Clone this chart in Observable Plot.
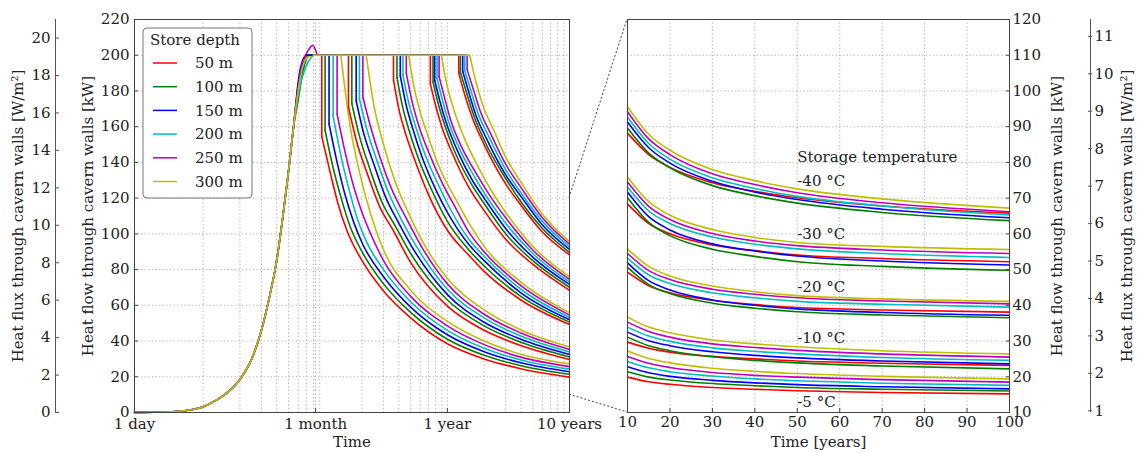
<!DOCTYPE html>
<html><head><meta charset="utf-8">
<script src="https://cdn.jsdelivr.net/npm/d3@7"></script>
<script src="https://cdn.jsdelivr.net/npm/@observablehq/plot@0.6"></script>
<style>
body{margin:0;background:#fff;}
#chart{position:relative;width:1138px;height:453px;font-family:"DejaVu Serif",serif;background:#fff;}
#chart svg{position:absolute;top:0;overflow:visible;}
</style></head><body><div id="chart"></div>
<script>
// ---------- data ----------
const K = 10.48;
const depths = ["50 m","100 m","150 m","200 m","250 m","300 m"];
const depthColors = ["#ff0000","#008000","#0000ff","#00bfbf","#bf00bf","#bfbf00"];
const temps = ["-5 °C","-10 °C","-20 °C","-30 °C","-40 °C"];

// left panel x ticks (time in years)
const xTickValues = [1/365, 1/12, 1, 10];
const xTickLabels = ["1 day","1 month","1 year","10 years"];
const xMinor = [0.01,0.02,0.03,0.04,0.05,0.06,0.07,0.08,0.09,0.2,0.3,0.4,0.5,0.6,0.7,0.8,0.9,2,3,4,5,6,7,8,9];
const yTicksLeft = [0,20,40,60,80,100,120,140,160,180,200,220];
const fluxTicksLeft = [0,2,4,6,8,10,12,14,16,18,20];
const xTicksRight = [10,20,30,40,50,60,70,80,90,100];
const yTicksRight = [10,20,30,40,50,60,70,80,90,100,110,120];
const fluxTicksRight = [1,2,3,4,5,6,7,8,9,10,11];

// common start-up rise [years], [kW]
const riseT  = [0.00274,0.004,0.006,0.008,0.01,0.0125,0.015,0.02,0.025,0.03,0.035,0.04,0.045,0.05,0.055];
const riseKW = [0,0.1,0.5,1.5,3.2,6.5,10,18.5,30,46,65,85,110,135,160];
// top of the rise, per depth
const riseTop = [
  [[0.06,183],[0.065,192],[0.07,200]],
  [[0.06,175],[0.065,190],[0.072,200]],
  [[0.06,185],[0.066,198],[0.07,200]],
  [[0.06,178],[0.065,188],[0.072,196],[0.08,200]],
  [[0.06,182],[0.065,195],[0.073,203],[0.079,205.5],[0.086,200]],
  [[0.06,180],[0.065,193],[0.072,199],[0.08,200]]
];

// decay after the 200 kW plateau, per temperature group, per depth: [years, kW]
const tailM5 = [
  [[0.0936,200],[0.0936,154.5],[0.11,134],[0.127,117],[0.15,102],[0.2,85],[0.3,68],[0.5,53],[1,38.5],[2,30],[4,24.5],[10,19.8]],
  [[0.0996,200],[0.0996,158],[0.115,138],[0.135,120],[0.16,104],[0.2,90],[0.3,72],[0.5,56],[1,41],[2,32],[4,26.2],[10,21.4]],
  [[0.1074,200],[0.1074,161.5],[0.125,140],[0.145,122],[0.17,107],[0.2,95],[0.3,76],[0.5,59],[1,43.5],[2,34],[4,27.8],[10,22.8]],
  [[0.1159,200],[0.1159,166],[0.135,143],[0.155,126],[0.18,110],[0.22,95],[0.3,80],[0.5,62],[1,46],[2,36],[4,29.4],[10,24.3]],
  [[0.125,200],[0.125,167],[0.145,146],[0.17,127],[0.2,112],[0.25,96],[0.3,85],[0.5,65],[1,48.5],[2,38],[4,31],[10,25.7]],
  [[0.134,200],[0.16,160],[0.19,135],[0.22,118],[0.26,102],[0.3,91],[0.5,68.5],[1,51],[2,40],[4,32.6],[10,27.2]]
];
const tailM10 = [
  [[0.1548,200],[0.1548,171],[0.18,152],[0.22,134],[0.28,115],[0.36,102],[0.5,84],[1,59.5],[2,46],[4,37.5],[10,29.7]],
  [[0.165,200],[0.165,173],[0.19,155],[0.23,137],[0.29,118],[0.37,105],[0.5,89],[1,63],[2,48.5],[4,39.3],[10,31.1]],
  [[0.179,200],[0.179,174.5],[0.205,157],[0.25,139],[0.31,121],[0.4,106],[0.5,94],[1,66],[2,50.5],[4,41],[10,32.5]],
  [[0.1905,200],[0.1905,175.5],[0.22,158],[0.265,141],[0.33,123],[0.42,108],[0.5,98.5],[1,69],[2,53],[4,42.8],[10,33.9]],
  [[0.2032,200],[0.2032,176.5],[0.235,160],[0.28,143],[0.35,125],[0.45,110],[0.6,94],[1,72],[2,55],[4,44.5],[10,35.3]],
  [[0.2163,200],[0.25,172],[0.3,150],[0.37,130],[0.47,113],[0.6,98],[1,75],[2,57.5],[4,46.2],[10,36.7]]
];
const tailM20 = [
  [[0.362,200],[0.362,186],[0.4,170],[0.45,157],[0.55,140],[0.7,122],[1,102],[1.5,88],[2,79],[4,63],[10,49.3]],
  [[0.3864,200],[0.3864,187.5],[0.43,171],[0.48,159],[0.58,142],[0.75,124],[1,107],[1.5,91],[2,82],[4,65],[10,50.6]],
  [[0.4113,200],[0.4113,188.5],[0.46,172],[0.52,159],[0.62,143],[0.8,125],[1,112],[1.5,94],[2,85],[4,67],[10,51.9]],
  [[0.4325,200],[0.4325,189],[0.48,174],[0.55,160],[0.66,144],[0.85,127],[1,117],[1.5,97],[2,87.5],[4,69],[10,53.2]],
  [[0.4606,200],[0.4606,190],[0.51,175],[0.58,161],[0.7,146],[0.9,129],[1.2,113],[1.5,101],[2,90],[4,71],[10,54.5]],
  [[0.4812,200],[0.53,183],[0.6,168],[0.7,154],[0.85,138],[1.2,118],[1.5,106],[2,93],[4,73],[10,55.8]]
];
const tailM30 = [
  [[0.725,200],[0.725,184],[0.8,172],[0.9,160],[1.1,145],[1.5,126],[2,113],[3,97],[5,83],[10,68.4]],
  [[0.763,200],[0.763,185],[0.84,173],[0.95,161],[1.15,146],[1.6,127],[2,117],[3,100],[5,85],[10,70.1]],
  [[0.787,200],[0.787,186],[0.87,174],[0.98,162],[1.2,147],[1.6,130],[2,120],[3,103],[5,87],[10,71.7]],
  [[0.823,200],[0.823,187],[0.91,175],[1.02,163],[1.25,148],[1.7,131],[2,123],[3,106],[5,89],[10,73.1]],
  [[0.855,200],[0.855,188],[0.95,176],[1.06,164],[1.3,149],[1.75,133],[2.2,122],[3,109],[5,91],[10,74.5]],
  [[0.893,200],[0.98,185],[1.1,172],[1.35,155],[1.8,137],[2.3,124],[3,112],[5,93],[10,75.9]]
];
const tailM40 = [
  [[1.239,200],[1.239,190],[1.4,177],[1.6,165],[2,150],[3,128],[4,116],[6,101],[10,88.2]],
  [[1.278,200],[1.278,190.5],[1.45,178],[1.65,166],[2.05,151],[3,131],[4,118],[6,103],[10,89.6]],
  [[1.335,200],[1.335,191],[1.5,179],[1.7,167],[2.1,153],[3,133],[4,121],[6,105],[10,91.3]],
  [[1.387,200],[1.387,191.5],[1.56,180],[1.77,168],[2.2,154],[3,136],[4,123],[6,107],[10,92.7]],
  [[1.451,200],[1.451,192],[1.63,181],[1.85,169],[2.3,155],[3,139],[4,126],[6,109],[10,94.2]],
  [[1.524,200],[1.7,186],[1.95,172],[2.4,158],[3,143],[4,129],[6,111],[10,95.6]]
];

// right panel: years 10..100
const rightYears = [10,15,20,30,40,50,70,100];
const rightM5 = [
  [19.9,18.6,17.9,17.0,16.5,16.1,15.6,15.2],
  [21.4,19.9,19.1,18.1,17.5,17.0,16.5,16.0],
  [22.8,21.1,20.1,19.0,18.3,17.8,17.2,16.6],
  [24.3,22.5,21.4,20.2,19.4,18.9,18.2,17.6],
  [25.7,23.8,22.6,21.2,20.4,19.9,19.2,18.5],
  [27.2,25.1,23.9,22.4,21.5,20.9,20.1,19.4]];
const rightM10 = [
  [29.7,28.0,26.9,25.7,25.0,24.4,23.8,23.2],
  [31.1,28.7,27.3,25.6,24.6,23.9,23.0,22.2],
  [32.5,30.1,28.7,27.0,26.0,25.3,24.4,23.6],
  [33.9,31.4,29.9,28.1,27.1,26.4,25.4,24.6],
  [35.3,32.7,31.1,29.2,28.2,27.4,26.4,25.5],
  [36.7,33.9,32.3,30.3,29.2,28.4,27.3,26.4]];
const rightM20 = [
  [49.3,45.5,43.5,41.4,40.2,39.4,38.7,38.1],
  [50.6,45.8,43.3,40.6,39.2,38.2,37.3,36.5],
  [51.9,46.9,44.3,41.5,40.0,39.0,38.0,37.2],
  [53.2,48.5,46.1,43.5,42.1,41.1,40.3,39.5],
  [54.5,49.7,47.2,44.5,43.1,42.1,41.2,40.4],
  [55.8,50.9,48.2,45.4,43.8,42.7,41.8,41.1]];
const rightM30 = [
  [68.4,62.9,60.0,56.9,55.3,54.1,53.1,52.2],
  [70.1,63.2,59.5,55.7,53.7,52.2,50.9,49.8],
  [71.7,64.8,61.1,57.2,55.2,53.8,52.4,51.3],
  [73.1,66.4,62.9,59.1,57.1,55.8,54.5,53.4],
  [74.5,67.7,64.0,60.1,58.0,56.7,55.5,54.5],
  [75.9,69.0,65.2,61.2,59.0,57.6,56.5,55.6]];
const rightM40 = [
  [88.2,82.2,78.6,74.3,71.9,70.1,67.8,65.8],
  [89.6,82.6,78.5,73.5,70.7,68.6,66.0,63.7],
  [91.3,84.1,79.8,74.7,71.7,69.6,66.9,64.5],
  [92.7,85.3,80.9,75.7,72.7,70.5,67.8,65.3],
  [94.2,86.6,82.2,76.8,73.8,71.5,68.7,66.2],
  [95.6,87.9,83.4,78.0,74.9,72.6,69.8,67.2]];

const annotTexts = ["Storage temperature","-40 °C","-30 °C","-20 °C","-10 °C","-5 °C"];
const annotX = [50,50,50,50,50,50];
const annotY = [81.4,74.7,59.8,45.0,30.7,12.8];

const labelFlow = "Heat flow through cavern walls [kW]";
const labelFlux = "Heat flux through cavern walls [W/m²]";

// ---------- build tables ----------
const tails = [tailM5, tailM10, tailM20, tailM30, tailM40];
const rights = [rightM5, rightM10, rightM20, rightM30, rightM40];
const riseRows = [], stepRows = [], decayRows = [], rightRows = [];
depths.forEach((dep, j) => {
  riseT.forEach((t, i) => riseRows.push({key: dep, depth: dep, t, kw: riseKW[i]}));
  riseTop[j].forEach(([t, kw]) => riseRows.push({key: dep, depth: dep, t, kw}));
});
temps.forEach((tp, g) => {
  depths.forEach((dep, j) => {
    const tail = tails[g][j];
    const key = tp + dep;
    const end = riseTop[j][riseTop[j].length - 1];
    const hasDrop = tail[1][0] === tail[0][0];
    const step = hasDrop ? [end, tail[0], tail[1]] : [end, tail[0]];
    step.forEach(([t, kw]) => stepRows.push({key, depth: dep, t, kw}));
    (hasDrop ? tail.slice(1) : tail).forEach(([t, kw]) => decayRows.push({key, depth: dep, t, kw}));
    rights[g][j].forEach((kw, i) => rightRows.push({key, depth: dep, t: rightYears[i], kw}));
  });
});

// ---------- plots ----------
const FONT = "DejaVu Serif";
const gridStyle = {stroke: "#9a9a9a", strokeOpacity: 0.9, strokeDasharray: "1.2,2.4", strokeWidth: 0.9};
const baseStyle = {fontFamily: FONT, fontSize: "15px", color: "#222", background: "transparent", overflow: "visible"};
const color = {domain: depths, range: depthColors};
const H = 453, MT = 19, MB = 41;
const rotLabel = (txt, anchor, dx) => Plot.text([txt], {text: d => d, frameAnchor: anchor, dx, rotate: -90, textAnchor: "middle", lineAnchor: "middle", fontSize: 15, fill: "#222"});
const bottomLabel = (txt) => Plot.text([txt], {text: d => d, frameAnchor: "bottom", dy: 30, textAnchor: "middle", lineAnchor: "middle", fontSize: 15, fill: "#222"});

const left = Plot.plot({
  width: 600, height: H, marginLeft: 134, marginRight: 31, marginTop: MT, marginBottom: MB,
  style: baseStyle,
  x: {type: "log", domain: [1/365, 10], axis: null},
  y: {domain: [0, 220]},
  color,
  marks: [
    Plot.gridX(xMinor, gridStyle),
    Plot.gridX(xTickValues, gridStyle),
    Plot.gridY(yTicksLeft, gridStyle),
    Plot.line(riseRows, {x: "t", y: "kw", z: "key", stroke: "depth", strokeWidth: 1.6, curve: "monotone-x"}),
    Plot.line(stepRows, {x: "t", y: "kw", z: "key", stroke: "depth", strokeWidth: 1.6}),
    Plot.line(decayRows, {x: "t", y: "kw", z: "key", stroke: "depth", strokeWidth: 1.6, curve: "monotone-x"}),
    Plot.frame({stroke: "#444"}),
    Plot.tickX(xTickValues, {x: d => d, stroke: "#444", insetTop: 389}),
    Plot.text(xTickValues, {x: d => d, text: (d, i) => xTickLabels[i], frameAnchor: "bottom", dy: 12, lineAnchor: "middle", fontSize: 15, fill: "#222"}),
    Plot.axisY(yTicksLeft, {tickSize: -4, tickPadding: 9, fontSize: 15, label: null, stroke: "#444"}),
    rotLabel(labelFlow, "left", -46),
    bottomLabel("Time")
  ]
});

const right = Plot.plot({
  width: 538, height: H, marginLeft: 27, marginRight: 129, marginTop: MT, marginBottom: MB,
  style: baseStyle,
  x: {domain: [10, 100]},
  y: {domain: [10, 120]},
  color,
  marks: [
    Plot.gridX(xTicksRight, gridStyle),
    Plot.gridY(yTicksRight, gridStyle),
    Plot.line(rightRows, {x: "t", y: "kw", z: "key", stroke: "depth", strokeWidth: 1.6, curve: "monotone-x"}),
    Plot.frame({stroke: "#444"}),
    Plot.axisX(xTicksRight, {tickSize: -4, tickPadding: 8, fontSize: 15, label: null, stroke: "#444"}),
    Plot.axisY(yTicksRight, {anchor: "right", tickSize: -4, tickPadding: 7, fontSize: 15, label: null, stroke: "#444"}),
    Plot.text(annotTexts, {x: (d, i) => annotX[i], y: (d, i) => annotY[i], text: d => d, textAnchor: "start", fontSize: 15, fill: "#222"}),
    rotLabel(labelFlow, "right", 48),
    bottomLabel("Time [years]")
  ]
});

const outerL = Plot.plot({
  width: 134, height: H, marginLeft: 55, marginRight: 78, marginTop: MT, marginBottom: MB,
  style: baseStyle,
  x: {domain: [0, 1], axis: null},
  y: {domain: [0, 220 / K]},
  marks: [
    Plot.ruleX([0], {stroke: "#555"}),
    Plot.axisY(fluxTicksLeft, {tickSize: -4, tickPadding: 9, fontSize: 15, label: null, stroke: "#555"}),
    rotLabel(labelFlux, "left", -37)
  ]
});

const outerR = Plot.plot({
  width: 129, height: H, marginLeft: 81, marginRight: 47, marginTop: MT, marginBottom: MB,
  style: baseStyle,
  x: {domain: [0, 1], axis: null},
  y: {domain: [10 / K, 120 / K]},
  marks: [
    Plot.ruleX([0], {stroke: "#555"}),
    Plot.axisY(fluxTicksRight, {anchor: "right", tickSize: -4, tickPadding: 7, fontSize: 15, label: null, stroke: "#555"}),
    rotLabel(labelFlux, "right", 36)
  ]
});

const chart = document.getElementById("chart");
const place = (svg, x) => { svg.style.left = x + "px"; chart.appendChild(svg); };
place(outerL, 0);
place(left, 0);
place(right, 600);
place(outerR, 1009);

// overlay: zoom connectors (from scales) and legend
const ov = d3.select(chart).append("svg").attr("width", 1138).attr("height", H)
  .style("left", "0px").style("font-family", FONT);
const lx = left.scale("x").apply(10);
const rx = 600 + right.scale("x").apply(10);
[120, 10].forEach(v => {
  ov.append("line").attr("x1", lx).attr("y1", left.scale("y").apply(v))
    .attr("x2", rx).attr("y2", right.scale("y").apply(v))
    .attr("stroke", "#444").attr("stroke-dasharray", "2,2").attr("stroke-width", 1);
});
const lg = ov.append("g").attr("transform", `translate(${left.scale("x").apply(1/365) + 9},28)`);
lg.append("rect").attr("width", 109).attr("height", 170).attr("rx", 4)
  .attr("fill", "#fff").attr("stroke", "#777");
lg.append("text").attr("x", 7).attr("y", 12).attr("dy", "0.35em").attr("font-size", 15).attr("fill", "#222").text("Store depth");
depths.forEach((d, i) => {
  const y = 35 + i * 23.7;
  lg.append("line").attr("x1", 10).attr("x2", 34).attr("y1", y).attr("y2", y)
    .attr("stroke", depthColors[i]).attr("stroke-width", 1.5);
  lg.append("text").attr("x", 52).attr("y", y).attr("dy", "0.35em").attr("font-size", 15).attr("fill", "#222").text(d);
});
</script></body></html>
